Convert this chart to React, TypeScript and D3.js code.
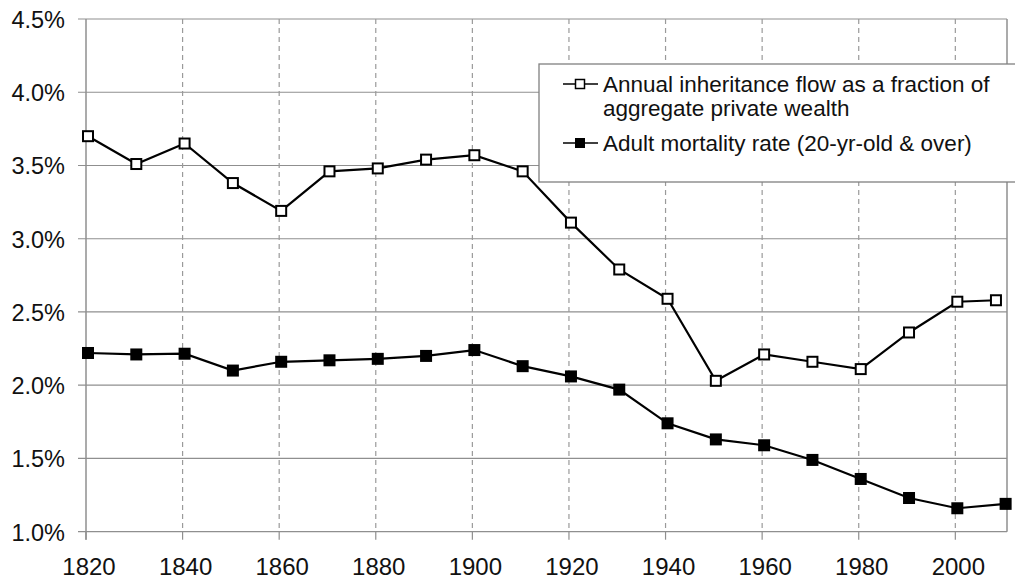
import React from "react";
import * as d3 from "d3";

const years = [1820, 1830, 1840, 1850, 1860, 1870, 1880, 1890, 1900, 1910, 1920, 1930, 1940, 1950, 1960, 1970, 1980, 1990, 2000];
const inheritanceYears = [...years, 2008];
const mortalityYears = [...years, 2010];
const inheritanceFlow = [3.70, 3.51, 3.65, 3.38, 3.19, 3.46, 3.48, 3.54, 3.57, 3.46, 3.11, 2.79, 2.59, 2.03, 2.21, 2.16, 2.11, 2.36, 2.57, 2.58];
const mortalityRate = [2.22, 2.21, 2.215, 2.10, 2.16, 2.17, 2.18, 2.20, 2.24, 2.13, 2.06, 1.97, 1.74, 1.63, 1.59, 1.49, 1.36, 1.23, 1.16, 1.19];
const yTicks = [1.0, 1.5, 2.0, 2.5, 3.0, 3.5, 4.0, 4.5];
const xTicks = [1820, 1840, 1860, 1880, 1900, 1920, 1940, 1960, 1980, 2000];
const legendLabels = [
  ["Annual inheritance flow as a fraction of", "aggregate private wealth"],
  ["Adult mortality rate (20-yr-old & over)"],
];

const W = 1015;
const H = 580;
const left = 86;
const right = 1007;
const top = 19;
const bottom = 531.7;
const font = "Arial, 'Liberation Sans', sans-serif";
const grid = "#8f8f8f";

export default function App() {
  const x = d3.scaleLinear().domain([1820, 2010.7]).range([left, right]);
  const y = d3.scaleLinear().domain([1.0, 4.5]).range([bottom, top]);
  const px = (yr: number) => x(yr) + 2;
  const line = d3.line<[number, number]>().x((d) => px(d[0])).y((d) => y(d[1]));
  const inhPts: [number, number][] = inheritanceYears.map((yr, i) => [yr, inheritanceFlow[i]]);
  const morPts: [number, number][] = mortalityYears.map((yr, i) => [yr, mortalityRate[i]]);
  const ms = 12;

  return (
    <svg width={W} height={H} style={{ position: "absolute", left: 0, top: 0, background: "#fff" }} fontFamily={font}>
      {/* horizontal gridlines */}
      {yTicks.map((t) => (
        <g key={"y" + t}>
          <line x1={left - 8} x2={right} y1={y(t)} y2={y(t)} stroke={grid} strokeWidth={1.2} />
          <text x={65} y={y(t) + 1} textAnchor="end" dominantBaseline="central" fontSize={23.5} fill="#111">
            {t.toFixed(1) + "%"}
          </text>
        </g>
      ))}
      {/* vertical dashed gridlines */}
      {xTicks.map((t) => (
        <g key={"x" + t}>
          {t !== 1820 && (
            <line x1={x(t)} x2={x(t)} y1={top} y2={bottom} stroke="#9a9a9a" strokeWidth={1.2} strokeDasharray="5,4" />
          )}
          <line x1={x(t)} x2={x(t)} y1={bottom} y2={bottom + 8} stroke={grid} strokeWidth={1.2} />
          <text x={x(t) + 3} y={575} textAnchor="middle" fontSize={24} fill="#111">
            {t}
          </text>
        </g>
      ))}
      <line x1={left} x2={left} y1={top} y2={bottom + 8} stroke={grid} strokeWidth={1.5} />
      <line x1={right} x2={right} y1={top} y2={bottom} stroke={grid} strokeWidth={1.5} />

      {/* series lines */}
      <path d={line(inhPts) || ""} fill="none" stroke="#000" strokeWidth={2.2} />
      <path d={line(morPts) || ""} fill="none" stroke="#000" strokeWidth={2.2} />
      {morPts.map((d, i) => (
        <rect key={"m" + i} x={px(d[0]) - ms / 2} y={y(d[1]) - ms / 2} width={ms} height={ms} fill="#000" />
      ))}
      {inhPts.map((d, i) => (
        <rect key={"i" + i} x={px(d[0]) - ms / 2 + 1} y={y(d[1]) - ms / 2 + 1} width={ms - 2} height={ms - 2} fill="#fff" stroke="#000" strokeWidth={2} />
      ))}

      {/* legend */}
      <rect x={539} y={64} width={500} height={118} fill="#fff" stroke="#808080" strokeWidth={1.3} />
      {legendLabels.map((lines, i) => {
        const cy = i === 0 ? 84 : 143;
        return (
          <g key={"lg" + i}>
            <line x1={563} x2={598} y1={cy} y2={cy} stroke="#000" strokeWidth={1.5} />
            {i === 0 ? (
              <rect x={575.5} y={cy - 4.5} width={9} height={9} fill="#fff" stroke="#000" strokeWidth={1.5} />
            ) : (
              <rect x={575} y={cy - 5} width={10} height={10} fill="#000" />
            )}
            {lines.map((s, j) => (
              <text key={j} x={603} y={cy + 8 + j * 24} fontSize={22.5} fill="#111">
                {s}
              </text>
            ))}
          </g>
        );
      })}
    </svg>
  );
}
